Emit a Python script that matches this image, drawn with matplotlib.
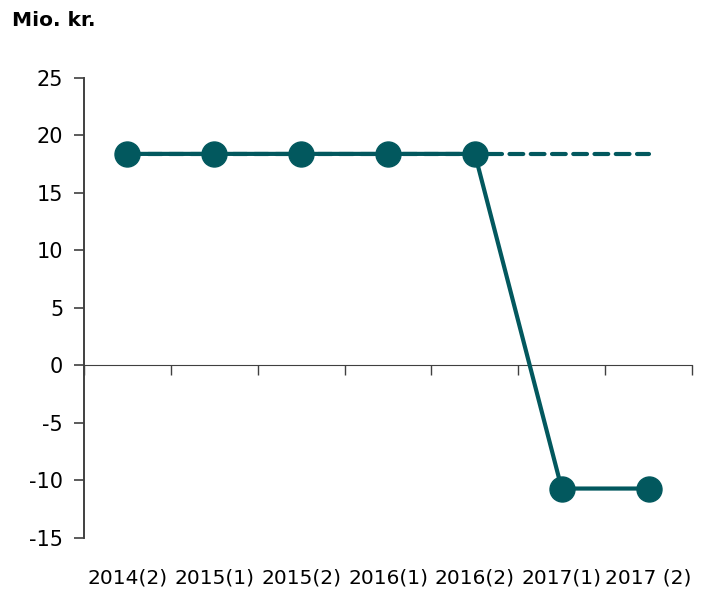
import matplotlib.pyplot as plt

periods = ['2014(2)', '2015(1)', '2015(2)', '2016(1)', '2016(2)', '2017(1)', '2017 (2)']
actual = [18.4, 18.4, 18.4, 18.4, 18.4, -10.7, -10.7]
baseline = [18.4, 18.4, 18.4, 18.4, 18.4, 18.4, 18.4]

teal = '#02585e'
plt.rcParams['font.family'] = 'DejaVu Sans'
plt.rcParams['axes.unicode_minus'] = False

fig = plt.figure(figsize=(7.09, 5.89), dpi=100)
ax = fig.add_axes([0.1185, 0.0866, 0.8575, 0.781])

x = list(range(len(periods)))
ax.plot(x, baseline, c=teal, lw=3, dashes=(3.3, 1.8), dash_capstyle='round')
ax.plot(x, actual, c=teal, lw=3, marker='o', ms=18, solid_capstyle='round')

ax.set_xlim(-0.5, len(periods) - 0.5)
ax.set_ylim(-15, 25)
ax.set_yticks(range(-15, 30, 5))
ax.tick_params(axis='y', length=7, width=1.2, color='#404040', labelsize=15, pad=8)

ax.set_xticks(x)
ax.set_xticklabels(periods, fontsize=14.5)
ax.tick_params(axis='x', length=0, pad=22)

for s in ['top', 'right', 'bottom']:
    ax.spines[s].set_visible(False)
ax.spines['left'].set_color('#404040')
ax.spines['left'].set_linewidth(1.4)

# zero line with category separators
zero = ax.secondary_xaxis(15 / 40)
zero.set_xticks([i + 0.5 for i in x[:-1]] + [-0.5, len(periods) - 0.5])
zero.set_xticklabels([])
zero.tick_params(length=7, width=1, color='#404040', direction='out')
zero.spines['bottom'].set_color('#404040')
zero.spines['top'].set_color('#404040')

fig.text(0.017, 0.965, 'Mio. kr.', fontsize=14.5, fontweight='bold', va='center')

plt.savefig('out.png', dpi=100)
